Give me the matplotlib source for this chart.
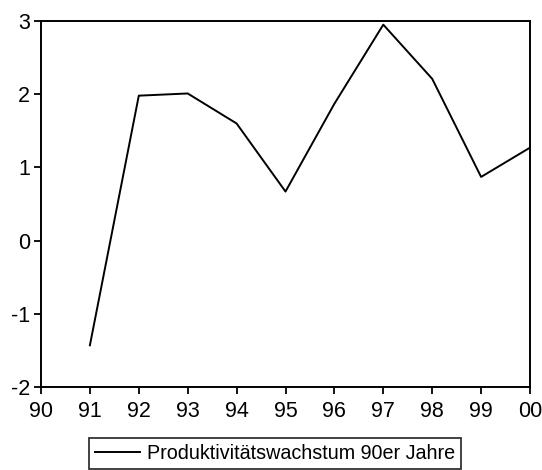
import matplotlib
matplotlib.use("Agg")
import matplotlib.pyplot as plt

years = [91, 92, 93, 94, 95, 96, 97, 98, 99, 100]
values = [-1.43, 1.98, 2.01, 1.60, 0.67, 1.87, 2.95, 2.21, 0.87, 1.27]
xtick_pos = [90, 91, 92, 93, 94, 95, 96, 97, 98, 99, 100]
xtick_labels = ["90", "91", "92", "93", "94", "95", "96", "97", "98", "99", "00"]
ytick_pos = [-2, -1, 0, 1, 2, 3]
series_label = "Produktivitätswachstum 90er Jahre"

plt.rcParams['font.family'] = ['Liberation Sans', 'DejaVu Sans']
plt.rcParams['axes.unicode_minus'] = False

fig = plt.figure(figsize=(5.42, 4.70), dpi=100)
ax = fig.add_axes([41/542, 1-387/470, (530-41)/542, (387-21)/470])
line, = ax.plot(years, values, color='black', lw=1.4)
ax.set_xlim(90, 100)
ax.set_ylim(-2, 3)
ax.set_xticks(xtick_pos)
ax.set_xticklabels(xtick_labels)
ax.set_yticks(ytick_pos)
ax.tick_params(direction='out', length=5, width=1.3, labelsize=15.5, colors='black', pad=3)
ax.tick_params(axis='x', pad=5)
for s in ax.spines.values():
    s.set_linewidth(1.4)

leg = fig.legend([line], [series_label], loc='center', bbox_to_anchor=(275/542, 1-453.5/470),
                 frameon=True, fancybox=False, edgecolor='black', fontsize=14.2,
                 handlelength=2.3, borderpad=0.3, handletextpad=0.35, borderaxespad=0)
leg.get_frame().set_linewidth(1.3)

fig.savefig("out.png", dpi=100)
